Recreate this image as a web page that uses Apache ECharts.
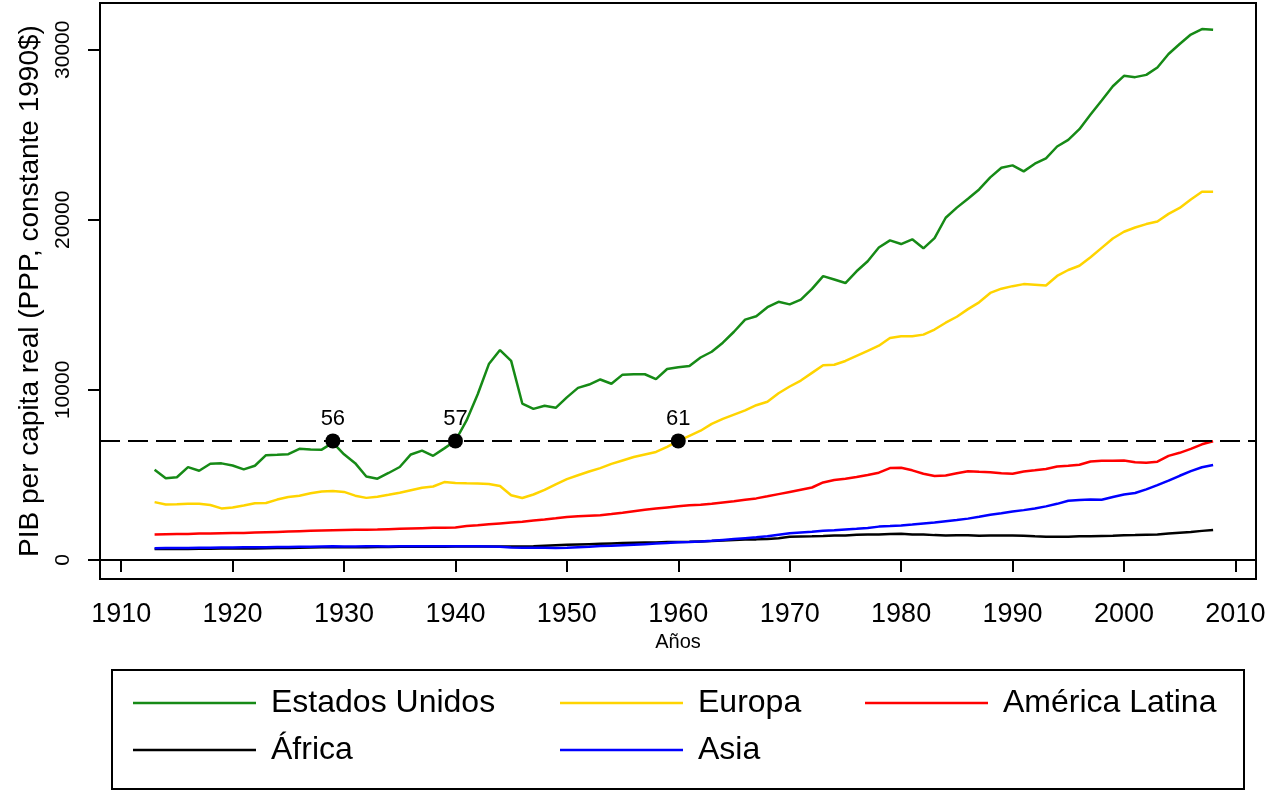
<!DOCTYPE html>
<html>
<head>
<meta charset="utf-8">
<script src="https://cdn.jsdelivr.net/npm/echarts@6/dist/echarts.min.js"></script>
<style>
  html, body { margin: 0; padding: 0; background: #fff; }
  #chart { width: 1274px; height: 791px; }
</style>
</head>
<body>
<div id="chart"></div>
<script>
// años 1913 - 2008, un valor por año
const startYear = 1913

const estadosUnidos = [
  5301, 4799, 4864, 5459, 5248, 5659, 5680, 5552, 5323, 5540,
  6164, 6190, 6220, 6538, 6497, 6487, 6899, 6213, 5691, 4908,
  4777, 5114, 5467, 6204, 6430, 6126, 6561, 7010, 8206, 9741,
  11518, 12341, 11709, 9197, 8886, 9065, 8944, 9561, 10116, 10316,
  10613, 10359, 10897, 10914, 10920, 10631, 11230, 11328, 11402, 11905,
  12242, 12773, 13419, 14134, 14330, 14863, 15179, 15030, 15304, 15944,
  16689, 16491, 16284, 16975, 17567, 18373, 18789, 18577, 18856, 18325,
  18920, 20123, 20717, 21236, 21788, 22499, 23059, 23201, 22849, 23298,
  23616, 24313, 24703, 25328, 26190, 27020, 27857, 28467, 28390, 28523,
  28960, 29750, 30336, 30896, 31218, 31178
]

const europa = [
  3400, 3260, 3270, 3300, 3310, 3230, 3030, 3080, 3200, 3330,
  3350, 3550, 3700, 3780, 3920, 4030, 4060, 4000, 3780, 3650,
  3720, 3830, 3950, 4100, 4250, 4320, 4580, 4530, 4510, 4500,
  4470, 4350, 3800, 3640, 3850, 4120, 4450, 4750, 4980, 5200,
  5400, 5650, 5850, 6050, 6200, 6350, 6650, 7000, 7300, 7600,
  8000, 8300, 8550, 8800, 9100, 9300, 9800, 10200, 10550, 11000,
  11450, 11480, 11700, 12000, 12300, 12600, 13050, 13150, 13150, 13250,
  13550, 13950, 14300, 14750, 15150, 15700, 15950, 16100, 16220, 16180,
  16140, 16700, 17050, 17300, 17800, 18350, 18900, 19300, 19550, 19750,
  19900, 20350, 20700, 21200, 21650, 21650
]

const americaLatina = [
  1500, 1510, 1520, 1530, 1550, 1560, 1570, 1580, 1590, 1610,
  1630, 1650, 1670, 1690, 1710, 1730, 1750, 1760, 1770, 1780,
  1790, 1810, 1830, 1850, 1870, 1890, 1900, 1910, 1990, 2040,
  2100, 2150, 2200, 2250, 2320, 2380, 2450, 2530, 2570, 2600,
  2630, 2700, 2780, 2870, 2950, 3020, 3090, 3160, 3210, 3250,
  3300, 3380, 3450, 3540, 3620, 3740, 3870, 4000, 4130, 4260,
  4560, 4700, 4780, 4880, 5000, 5130, 5400, 5420, 5270, 5070,
  4940, 4970, 5100, 5210, 5180, 5160, 5100, 5070, 5200, 5270,
  5350, 5500, 5540, 5600, 5790, 5830, 5830, 5850, 5750, 5710,
  5780, 6120, 6300, 6530, 6800, 6980
]

const africa = [
  640, 640, 650, 650, 660, 660, 670, 670, 680, 680,
  690, 700, 710, 720, 730, 740, 750, 750, 750, 750,
  760, 760, 770, 770, 780, 780, 780, 790, 790, 790,
  790, 790, 790, 790, 800, 830, 860, 890, 910, 930,
  950, 970, 990, 1010, 1020, 1030, 1050, 1060, 1070, 1090,
  1110, 1150, 1180, 1200, 1210, 1230, 1280, 1360, 1380, 1390,
  1410, 1440, 1440, 1480, 1490, 1500, 1520, 1540, 1500, 1490,
  1460, 1440, 1450, 1450, 1430, 1440, 1440, 1440, 1420, 1390,
  1370, 1360, 1360, 1390, 1400, 1410, 1420, 1450, 1460, 1480,
  1500, 1550, 1600, 1650, 1710, 1760
]

const asia = [
  690, 700, 700, 710, 720, 720, 730, 730, 740, 740,
  750, 760, 760, 770, 780, 790, 800, 790, 790, 800,
  800, 790, 800, 810, 810, 810, 810, 810, 800, 800,
  790, 770, 730, 720, 720, 720, 710, 720, 750, 780,
  820, 840, 870, 900, 930, 970, 1000, 1040, 1060, 1090,
  1130, 1180, 1230, 1280, 1330, 1390, 1480, 1570, 1620, 1660,
  1720, 1740, 1790, 1830, 1880, 1960, 1990, 2030, 2080, 2140,
  2200, 2280, 2350, 2430, 2540, 2660, 2750, 2850, 2930, 3030,
  3150, 3300, 3480, 3530, 3560, 3540, 3700, 3850, 3940, 4150,
  4400, 4660, 4950, 5220, 5450, 5580
]

// umbral y puntos marcados
const umbral = 7000
const puntosAnios = [1929, 1940, 1960]
const puntosEtiquetas = ['56', '57', '61']

const xTicks = [1910, 1920, 1930, 1940, 1950, 1960, 1970, 1980, 1990, 2000, 2010]
const yTicks = [0, 10000, 20000, 30000]

const seriesInfo = [
  { name: 'Estados Unidos', data: estadosUnidos, color: '#168a16' },
  { name: 'Europa', data: europa, color: '#ffd400' },
  { name: 'América Latina', data: americaLatina, color: '#ff0000' },
  { name: 'África', data: africa, color: '#000000' },
  { name: 'Asia', data: asia, color: '#0000ff' }
]

const font = "'Liberation Sans', Arial, sans-serif"

const chart = echarts.init(document.getElementById('chart'))

const toPairs = (arr) => arr.map((v, i) => [startYear + i, v])

const lineSeries = seriesInfo.map(s => ({
  name: s.name,
  type: 'line',
  data: toPairs(s.data),
  symbol: 'none',
  showSymbol: false,
  color: s.color,
  lineStyle: { color: s.color, width: 2.5 },
  animation: false,
  z: 3
}))

// leyenda en tres columnas, icono = línea fina
const legendBase = {
  orient: 'vertical',
  top: 680,
  icon: 'rect',
  itemWidth: 123,
  itemHeight: 2.5,
  itemGap: 11,
  textStyle: { fontFamily: font, fontSize: 32, color: '#000', lineHeight: 36, padding: [0, 0, 0, 10] },
  selectedMode: false
}

const plainNumber = (v) => String(v)

const option = {
  backgroundColor: '#fff',
  animation: false,
  grid: {
    left: 100,
    top: 3,
    right: 18,
    bottom: 212,
    show: true,
    borderColor: '#000',
    borderWidth: 2,
    backgroundColor: '#fff'
  },
  legend: [
    Object.assign({}, legendBase, { left: 128, data: ['Estados Unidos', 'África'] }),
    Object.assign({}, legendBase, { left: 555, data: ['Europa', 'Asia'] }),
    Object.assign({}, legendBase, { left: 860, data: ['América Latina'] })
  ],
  graphic: [
    {
      type: 'rect',
      shape: { x: 112, y: 670, width: 1132, height: 119 },
      style: { fill: null, stroke: '#000', lineWidth: 2 },
      silent: true
    }
  ],
  xAxis: {
    type: 'value',
    min: 1908.1,
    max: 2011.85,
    name: 'Años',
    nameLocation: 'middle',
    nameGap: 50,
    nameTextStyle: { fontFamily: font, fontSize: 20, color: '#000' },
    axisLine: { lineStyle: { color: '#000', width: 2 } },
    axisTick: { show: true, length: 12, lineStyle: { color: '#000', width: 2 }, customValues: xTicks },
    axisLabel: { fontFamily: font, fontSize: 27, color: '#000', margin: 22, customValues: xTicks, formatter: plainNumber },
    splitLine: { show: false }
  },
  yAxis: [
    {
      type: 'value',
      min: -1120,
      max: 32750,
      name: 'PIB per capita real (PPP, constante 1990$)',
      nameLocation: 'middle',
      nameRotate: 90,
      nameGap: 56,
      nameTextStyle: { fontFamily: font, fontSize: 28, color: '#000' },
      axisLine: { show: true, lineStyle: { color: '#000', width: 2 } },
      axisTick: { show: true, length: 12, lineStyle: { color: '#000', width: 2 }, customValues: yTicks },
      axisLabel: { fontFamily: font, fontSize: 21, color: '#000', rotate: 90, margin: 26, customValues: yTicks, formatter: plainNumber },
      splitLine: { show: false }
    },
    {
      // marca interna del umbral
      type: 'value',
      position: 'left',
      min: -1120,
      max: 32750,
      axisLine: { show: false },
      axisTick: { show: true, inside: true, length: 20, lineStyle: { color: '#000', width: 2 }, customValues: [umbral] },
      axisLabel: { show: false },
      splitLine: { show: false }
    }
  ],
  series: lineSeries.concat([
    {
      name: 'puntos',
      type: 'scatter',
      data: puntosAnios.map(a => [a, umbral]),
      symbolSize: 15,
      itemStyle: { color: '#000', opacity: 1 },
      label: {
        show: true,
        position: 'top',
        distance: 3,
        fontFamily: font,
        fontSize: 22,
        color: '#000',
        formatter: (p) => puntosEtiquetas[p.dataIndex]
      },
      markLine: {
        silent: true,
        symbol: 'none',
        label: { show: false },
        lineStyle: { color: '#000', width: 2, type: [20, 8], opacity: 1 },
        data: [{ yAxis: umbral }]
      },
      z: 5
    }
  ])
}

chart.setOption(option)
</script>
</body>
</html>
